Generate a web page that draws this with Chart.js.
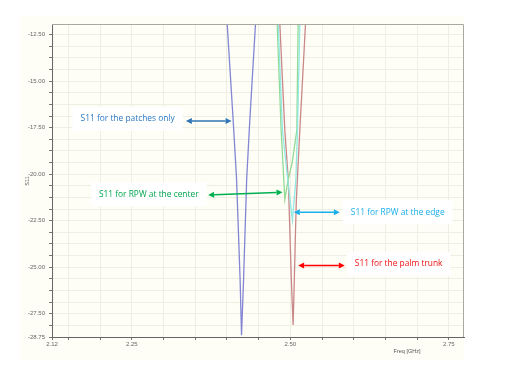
<!DOCTYPE html>
<html>
<head>
<meta charset="utf-8">
<script src="https://cdn.jsdelivr.net/npm/chart.js@4.4.0/dist/chart.umd.min.js"></script>
<style>
  html, body { margin: 0; padding: 0; background: #fff; }
  #wrap { width: 509px; height: 366px; }
</style>
</head>
<body>
<div id="wrap"><canvas id="grafico" width="509" height="366"></canvas></div>
<script>
// valores (Freq em GHz, S11 em dB)
const patchesX = [2.4003, 2.4098, 2.4151, 2.4208, 2.4230, 2.4262, 2.4312, 2.4361, 2.4451];
const patchesY = [-11.89, -17.09, -20.2, -25.69, -28.65, -25.69, -20.2, -17.09, -11.89];

const edgeX = [2.4808, 2.4875, 2.4960, 2.5033, 2.5087, 2.5113, 2.5150];
const edgeY = [-11.89, -17.62, -20.31, -22.46, -20.31, -17.62, -11.89];

const centerX = [2.4792, 2.4855, 2.4913, 2.4965, 2.5028, 2.5103, 2.5123];
const centerY = [-11.89, -17.62, -21.35, -20.31, -19.41, -17.62, -11.89];

const trunkX = [2.4834, 2.4913, 2.4968, 2.4992, 2.5016, 2.5044, 2.5063, 2.5082, 2.5095, 2.5150, 2.5240];
const trunkY = [-11.89, -17.62, -20.31, -23.0, -25.69, -28.11, -25.69, -23.0, -21.39, -17.62, -11.89];

const yTickValues = [-28.75, -27.5, -25, -22.5, -20, -17.5, -15, -12.5];
const yTickLabels = ["-28.75", "-27.50", "-25.00", "-22.50", "-20.00", "-17.50", "-15.00", "-12.50"];
const xTickValues = [2.124, 2.25, 2.5, 2.75];
const xTickLabels = ["2.12", "2.25", "2.50", "2.75"];

// anotações (texto + seta dupla)
const notas = [
  { texto: "S11 for the patches only", cor: "#2a78c2", corSeta: "#2e75b6", tx: 2.1691, ty: -17.03, x1: 2.3352, y1: -17.14, x2: 2.4073, y2: -17.14 },
  { texto: "S11 for RPW at the center", cor: "#00a650", corSeta: "#00b050", tx: 2.1980, ty: -21.08, x1: 2.3703, y1: -21.12, x2: 2.4877, y2: -20.97 },
  { texto: "S11 for RPW at the edge", cor: "#1aaeea", corSeta: "#1aaeea", tx: 2.5954, ty: -22.05, x1: 2.5055, y1: -22.05, x2: 2.5781, y2: -22.05 },
  { texto: "S11 for the palm trunk", cor: "#f01010", corSeta: "#ff0000", tx: 2.6017, ty: -24.83, x1: 2.5123, y1: -24.90, x2: 2.5860, y2: -24.90 }
];

function pares(xs, ys) {
  return xs.map((x, i) => ({ x: x, y: ys[i] }));
}

function serie(xs, ys, cor) {
  return {
    data: pares(xs, ys),
    borderColor: cor,
    borderWidth: 1.3,
    pointRadius: 0,
    tension: 0,
    fill: false
  };
}

function seta(ctx, x1, y1, x2, y2, cor) {
  const ang = Math.atan2(y2 - y1, x2 - x1);
  const L = 6, W = 3;
  ctx.strokeStyle = cor;
  ctx.fillStyle = cor;
  ctx.lineWidth = 1.5;
  ctx.beginPath();
  ctx.moveTo(x1 + Math.cos(ang) * L, y1 + Math.sin(ang) * L);
  ctx.lineTo(x2 - Math.cos(ang) * L, y2 - Math.sin(ang) * L);
  ctx.stroke();
  [[x2, y2, ang], [x1, y1, ang + Math.PI]].forEach(([px, py, a]) => {
    ctx.beginPath();
    ctx.moveTo(px, py);
    ctx.lineTo(px - Math.cos(a) * L - Math.sin(a) * W, py - Math.sin(a) * L + Math.cos(a) * W);
    ctx.lineTo(px - Math.cos(a) * L + Math.sin(a) * W, py - Math.sin(a) * L - Math.cos(a) * W);
    ctx.closePath();
    ctx.fill();
  });
}

const fundo = {
  id: "fundo",
  beforeDraw(chart) {
    const ctx = chart.ctx;
    ctx.save();
    ctx.fillStyle = "#ffffff";
    ctx.fillRect(0, 0, chart.width, chart.height);
    ctx.fillStyle = "#fefef7";
    ctx.fillRect(20, 16, chart.chartArea.right - 20, 344);
    ctx.restore();
  },
  afterDatasetsDraw(chart) {
    const ctx = chart.ctx;
    const a = chart.chartArea;
    const sx = chart.scales.x, sy = chart.scales.y;
    ctx.save();
    // borda superior e direita
    ctx.strokeStyle = "#a8a8a0";
    ctx.lineWidth = 1;
    ctx.beginPath();
    ctx.moveTo(a.left, a.top + 0.5);
    ctx.lineTo(a.right - 0.5, a.top + 0.5);
    ctx.lineTo(a.right - 0.5, a.bottom);
    ctx.stroke();

    // títulos dos eixos
    ctx.fillStyle = "#555";
    ctx.font = "5.5px 'Liberation Sans'";
    ctx.textAlign = "center";
    ctx.textBaseline = "middle";
    ctx.fillText("Freq [GHz]", 407, 351);
    ctx.translate(27, 181);
    ctx.rotate(-Math.PI / 2);
    ctx.fillText("S11", 0, 0);
    ctx.restore();

    ctx.save();
    ctx.font = "8.4px 'Open Sans'";
    ctx.textBaseline = "middle";
    ctx.textAlign = "left";
    notas.forEach(n => {
      const tx = sx.getPixelForValue(n.tx), ty = sy.getPixelForValue(n.ty);
      const w = ctx.measureText(n.texto).width;
      ctx.fillStyle = "#ffffff";
      ctx.fillRect(tx - 8, ty - 12, w + 16, 24);
      ctx.fillStyle = n.cor;
      ctx.fillText(n.texto, tx, ty);
      seta(ctx, sx.getPixelForValue(n.x1), sy.getPixelForValue(n.y1),
        sx.getPixelForValue(n.x2), sy.getPixelForValue(n.y2), n.corSeta);
    });
    ctx.restore();
  }
};

const ctx = document.getElementById("grafico").getContext("2d");
new Chart(ctx, {
  type: "line",
  data: {
    datasets: [
      serie(patchesX, patchesY, "#8386d4"),
      serie(edgeX, edgeY, "#92e8e2"),
      serie(centerX, centerY, "#93da93"),
      serie(trunkX, trunkY, "#c98888")
    ]
  },
  options: {
    responsive: false,
    animation: false,
    layout: { padding: { top: 24, right: 45, left: 0, bottom: 0 } },
    plugins: { legend: { display: false }, tooltip: { enabled: false } },
    scales: {
      x: {
        type: "linear",
        min: 2.124,
        max: 2.774,
        afterFit(s) { s.height = 29; },
        afterBuildTicks(s) {
          const t = [{ value: xTickValues[0] }];
          for (let i = 3; i <= 15; i++) t.push({ value: Math.round(i * 5 + 200) / 100 });
          s.ticks = t;
        },
        ticks: {
          autoSkip: false,
          maxRotation: 0,
          padding: 1,
          color: "#666",
          font: { family: "Liberation Sans", size: 6 },
          callback(v) {
            const i = xTickValues.findIndex(x => Math.abs(x - v) < 1e-6);
            return i >= 0 ? xTickLabels[i] : "";
          }
        },
        grid: { color: "#efeee2", tickColor: "#777", tickLength: 3 },
        border: { color: "#666", width: 1 }
      },
      y: {
        type: "linear",
        min: -28.75,
        max: -11.925,
        afterFit(s) { s.width = 52; },
        afterBuildTicks(s) {
          const t = [];
          for (let i = 0; i <= 26; i++) t.push({ value: -28.75 + i * 0.625 });
          s.ticks = t;
        },
        ticks: {
          autoSkip: false,
          padding: 4,
          color: "#666",
          font: { family: "Liberation Sans", size: 6 },
          callback(v) {
            const i = yTickValues.findIndex(y => Math.abs(y - v) < 1e-6);
            return i >= 0 ? yTickLabels[i] : "";
          }
        },
        grid: { color: "#efeee2", tickColor: "#777", tickLength: 3 },
        border: { color: "#666", width: 1 }
      }
    }
  },
  plugins: [fundo]
});
</script>
</body>
</html>
